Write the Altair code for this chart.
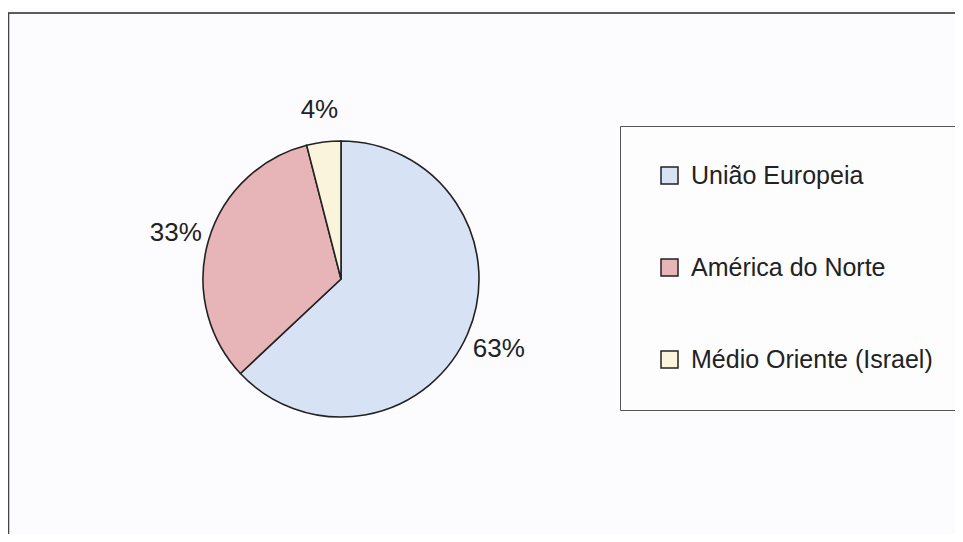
import altair as alt
import pandas as pd

categories = ["União Europeia", "América do Norte", "Médio Oriente (Israel)"]
values = [63, 33, 4]
labels = ["63%", "33%", "4%"]
order = [1, 2, 3]
colors = ["#d8e2f5", "#e7b5b7", "#fbf4dc"]

df = pd.DataFrame({"cat": categories, "value": values, "label": labels, "ord": order})

CX, CY = 333, 271

color = alt.Color(
    "cat:N",
    scale=alt.Scale(domain=categories, range=colors),
    sort=categories,
    legend=alt.Legend(
        orient="none", legendX=612, legendY=118, title=None,
        symbolType="square", symbolSize=289, symbolStrokeColor="#222",
        symbolStrokeWidth=1.5, labelFontSize=25, labelFont="Liberation Sans",
        labelColor="#222", rowPadding=66, padding=37, strokeColor="#555",
        fillColor="#fdfdfe", labelOffset=9, labelLimit=400,
    ),
)

base = alt.Chart(df).encode(
    theta=alt.Theta("value:Q", stack=True),
    order=alt.Order("ord:Q"),
)

arcs = base.mark_arc(radius=138, stroke="#222", strokeWidth=1.6).encode(
    color=color, x=alt.value(CX), y=alt.value(CY)
)

texts = base.mark_text(
    radius=172, fontSize=26, font="Liberation Sans", color="#222"
).encode(text="label:N", x=alt.value(CX), y=alt.value(CY + 2))

frame_top = alt.Chart(df).mark_rule(color="#444", strokeWidth=1.2).encode(
    x=alt.value(0), x2=alt.value(947), y=alt.value(5)
)
frame_left = alt.Chart(df).mark_rule(color="#444", strokeWidth=1.2).encode(
    x=alt.value(0.5), y=alt.value(5), y2=alt.value(526)
)

chart = alt.layer(frame_top, frame_left, arcs, texts).properties(
    width=947, height=526, autosize=alt.AutoSizeParams(type="none"), padding=0,
    background="#fcfcfe",
).configure_view(stroke=None)

chart.save("out.html", embed_options={"renderer": "svg", "actions": False})
